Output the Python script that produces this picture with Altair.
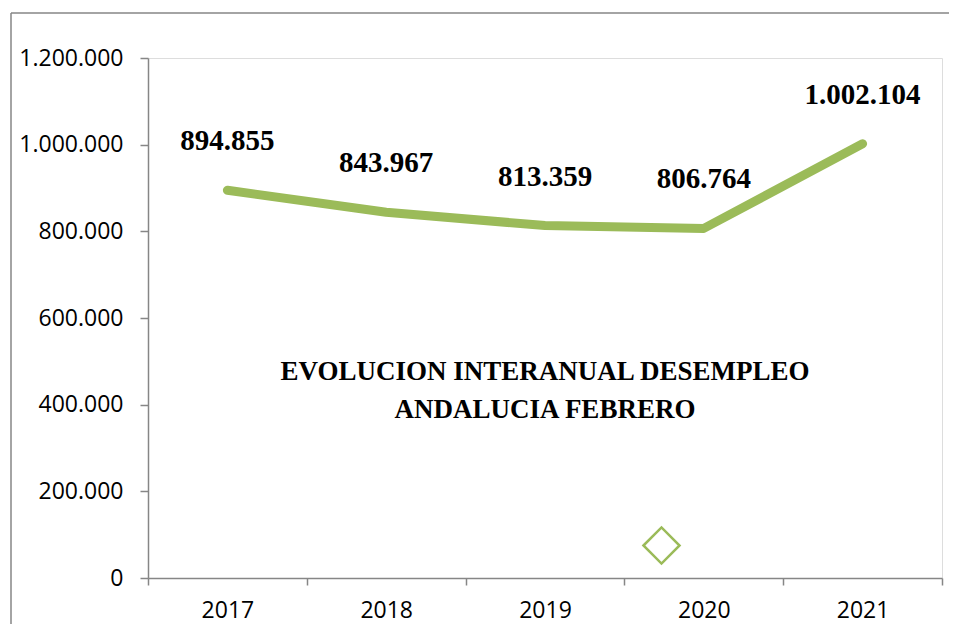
import altair as alt
import pandas as pd

years = ["2017", "2018", "2019", "2020", "2021"]
parados = [894855, 843967, 813359, 806764, 1002104]
serie = ["Parados"] * len(years)
y_ticks = [0, 200000, 400000, 600000, 800000, 1000000, 1200000]
title_lines = ["EVOLUCION INTERANUAL DESEMPLEO", "ANDALUCIA FEBRERO"]

df = pd.DataFrame({"year": years, "parados": parados, "serie": serie})

GREEN = "#9BBB59"
GRAY = "#868686"

x_enc = alt.X(
    "year:N",
    scale=alt.Scale(type="band", paddingInner=0, paddingOuter=0),
    axis=alt.Axis(
        title=None, labelAngle=0, tickBand="extent", domainColor=GRAY,
        tickColor=GRAY, tickSize=7, tickWidth=1.5, domainWidth=1.5,
        labelFont="Open Sans", labelFontSize=23, labelColor="black",
        labelPadding=14, grid=False,
    ),
)
y_enc = alt.Y(
    "parados:Q",
    scale=alt.Scale(domain=[0, 1200000], nice=False),
    axis=alt.Axis(
        title=None, values=y_ticks, format=",d", domainColor=GRAY,
        tickColor=GRAY, tickSize=8, tickWidth=1.5, domainWidth=1.5,
        labelFont="Open Sans", labelFontSize=23, labelColor="black",
        labelPadding=17, grid=False,
    ),
)

base = alt.Chart(df)
one = pd.DataFrame({"k": [0]})

frame_top = alt.Chart(one).mark_rule(
    color=GRAY, strokeWidth=1.5, clip=False
).encode(x=alt.value(-137), x2=alt.value(801), y=alt.value(-45))

frame_left = alt.Chart(one).mark_rule(
    color=GRAY, strokeWidth=1.5, clip=False
).encode(x=alt.value(-137), y=alt.value(-45), y2=alt.value(600))

line = base.mark_line(strokeWidth=9, strokeCap="round", strokeJoin="round").encode(
    x=x_enc,
    y=y_enc,
    color=alt.Color(
        "serie:N",
        scale=alt.Scale(range=[GREEN]),
        legend=alt.Legend(
            title=None, orient="none", legendX=494, legendY=468,
            symbolType="diamond", symbolSize=1300, symbolFillColor="white",
            symbolStrokeColor="#7f9f3f", symbolStrokeWidth=2.5,
            labelExpr="''", padding=0,
        ),
    ),
)

labels = base.mark_text(
    font="Liberation Serif", fontWeight="bold", fontSize=29, color="black",
    dy=-49, baseline="middle",
).encode(
    x=x_enc, y=y_enc, text=alt.Text("parados:Q", format=",d")
)

chart = alt.layer(frame_top, frame_left, line, labels).properties(
    width=794,
    height=520,
    autosize=alt.AutoSizeParams(type="none"),
    padding={"left": 140, "top": 50, "right": 7, "bottom": 46},
    title=alt.TitleParams(
        text=title_lines, anchor="middle", frame="group", baseline="top",
        font="Liberation Serif", fontWeight="bold", fontSize=27,
        lineHeight=38, color="black", dy=416,
    ),
).configure_view(stroke=None).configure(
    locale={"number": {"decimal": ",", "thousands": ".", "grouping": [3], "currency": ["", "€"]}}
)

chart.save("out.html", embed_options={"renderer": "svg", "actions": False})
